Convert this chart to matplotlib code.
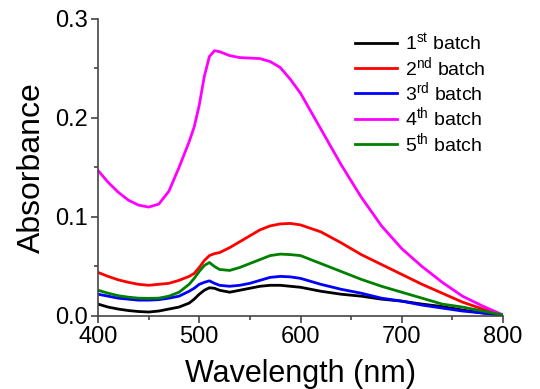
import numpy as np
import matplotlib
matplotlib.use('Agg')
import matplotlib.pyplot as plt
from matplotlib.ticker import MultipleLocator, FormatStrFormatter

plt.rcParams['font.family'] = ['Liberation Sans', 'DejaVu Sans']
plt.rcParams['mathtext.default'] = 'regular'

# wavelength grid (nm)
wl = [400, 410, 420, 430, 440, 450, 460, 470, 480, 490, 495, 500, 505, 510, 515,
      520, 530, 540, 550, 560, 570, 580, 590, 600, 620, 640, 660, 680, 700, 720,
      740, 760, 780, 800]

batch1 = [0.012, 0.009, 0.007, 0.0055, 0.0045, 0.004, 0.005, 0.007, 0.009, 0.013, 0.017,
          0.022, 0.026, 0.0285, 0.028, 0.026, 0.024, 0.026, 0.028, 0.030, 0.031, 0.031,
          0.030, 0.029, 0.025, 0.022, 0.020, 0.017, 0.015, 0.012, 0.0095, 0.006, 0.003, 0.001]
batch2 = [0.044, 0.040, 0.0365, 0.034, 0.032, 0.031, 0.032, 0.033, 0.036, 0.040, 0.043,
          0.049, 0.056, 0.061, 0.063, 0.064, 0.069, 0.075, 0.081, 0.087, 0.091, 0.093,
          0.0935, 0.092, 0.085, 0.074, 0.062, 0.052, 0.042, 0.032, 0.023, 0.014, 0.007, 0.001]
batch3 = [0.022, 0.020, 0.018, 0.017, 0.016, 0.016, 0.0165, 0.018, 0.020, 0.025, 0.028,
          0.032, 0.034, 0.0355, 0.033, 0.031, 0.030, 0.031, 0.033, 0.036, 0.039, 0.040,
          0.0395, 0.038, 0.032, 0.027, 0.023, 0.018, 0.015, 0.011, 0.008, 0.005, 0.003, 0.001]
batch4 = [0.147, 0.135, 0.125, 0.117, 0.112, 0.110, 0.113, 0.126, 0.150, 0.176, 0.191,
          0.213, 0.242, 0.262, 0.268, 0.267, 0.263, 0.261, 0.2605, 0.260, 0.257, 0.251,
          0.239, 0.225, 0.189, 0.153, 0.120, 0.091, 0.068, 0.050, 0.034, 0.020, 0.010, 0.001]
batch5 = [0.026, 0.023, 0.0205, 0.019, 0.018, 0.0178, 0.018, 0.020, 0.024, 0.032, 0.038,
          0.045, 0.051, 0.054, 0.050, 0.047, 0.046, 0.049, 0.053, 0.057, 0.061, 0.0625,
          0.062, 0.061, 0.053, 0.045, 0.037, 0.030, 0.024, 0.018, 0.012, 0.009, 0.005, 0.001]

labels = ['1$^{st}$ batch', '2$^{nd}$ batch', '3$^{rd}$ batch', '4$^{th}$ batch', '5$^{th}$ batch']
colors = ['black', 'red', 'blue', 'magenta', 'green']

fig = plt.figure(figsize=(5.4, 3.89), dpi=100)
ax = fig.add_axes([0.1815, 0.1877, 0.75, 0.7635])

for y, lab, c in zip([batch1, batch2, batch3, batch4, batch5], labels, colors):
    ax.plot(wl, y, color=c, lw=2, label=lab)

ax.set_xlim(400, 800)
ax.set_ylim(0, 0.3)
ax.xaxis.set_major_locator(MultipleLocator(100))
ax.xaxis.set_minor_locator(MultipleLocator(50))
ax.yaxis.set_major_locator(MultipleLocator(0.1))
ax.yaxis.set_minor_locator(MultipleLocator(0.05))
ax.yaxis.set_major_formatter(FormatStrFormatter('%.1f'))

for s in ['top', 'right']:
    ax.spines[s].set_visible(False)
for s in ['left', 'bottom']:
    ax.spines[s].set_color('#444444')
    ax.spines[s].set_linewidth(1.2)

ax.tick_params(which='major', direction='out', length=5, width=1.2, color='#444444',
               labelsize=17, pad=2)
ax.tick_params(which='minor', direction='out', length=3, width=1.2, color='#444444')

ax.set_xlabel('Wavelength (nm)', fontsize=22, labelpad=8)
ax.set_ylabel('Absorbance', fontsize=23, labelpad=6)

leg = ax.legend(loc='upper left', bbox_to_anchor=(355 / 540, 1 - 32 / 389),
                bbox_transform=fig.transFigure, frameon=False, fontsize=14,
                handlelength=2.15, handletextpad=0.4, labelspacing=0.07,
                borderpad=0, borderaxespad=0)

fig.savefig('out.png', dpi=100)
